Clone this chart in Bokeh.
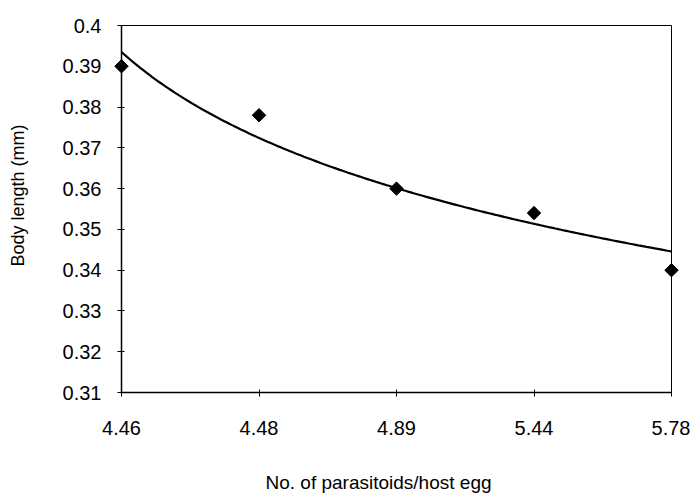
import numpy as np
from bokeh.plotting import figure
from bokeh.models import FixedTicker, CustomJSTickFormatter, Range1d, LinearAxis, Label
from bokeh.embed import file_html
from bokeh.resources import INLINE

# Data
x_labels = ["4.46", "4.48", "4.89", "5.44", "5.78"]
body_length = [0.390, 0.378, 0.360, 0.354, 0.340]
y_ticks = [0.31, 0.32, 0.33, 0.34, 0.35, 0.36, 0.37, 0.38, 0.39, 0.40]

pos = list(range(len(x_labels)))

# Logarithmic trendline fitted to the data (as in the original chart)
a, b = np.polyfit(np.log(np.array(pos) + 1.0), np.array(body_length), 1)
xs = np.linspace(0, len(pos) - 1, 200)
ys = a * np.log(xs + 1.0) + b

FONT = "Liberation Sans"

# Layout (pixels): the frame covers the whole canvas, axes are drawn at the data edges
W, H = 690, 495
PX_LEFT, PX_RIGHT, PX_TOP, PX_BOTTOM = 121, 671, 25, 392
X0, X1, Y0, Y1 = 0, 4, 0.31, 0.40
kx = (PX_RIGHT - PX_LEFT) / (X1 - X0)
ky = (PX_BOTTOM - PX_TOP) / (Y1 - Y0)
x_range = Range1d(X0 - PX_LEFT / kx, X1 + (W - PX_RIGHT) / kx)
y_range = Range1d(Y0 - (H - PX_BOTTOM) / ky, Y1 + PX_TOP / ky)


def dx(px):
    return X0 + (px - PX_LEFT) / kx


def dy(py):
    return Y0 + (PX_BOTTOM - py) / ky


p = figure(width=W, height=H, output_backend="svg", toolbar_location=None,
           x_range=x_range, y_range=y_range, x_axis_type=None, y_axis_type=None,
           min_border=0)
p.xgrid.visible = False
p.ygrid.visible = False
p.outline_line_color = None

p.line(xs, ys, line_color="black", line_width=2.2)
p.scatter(pos, body_length, marker="square", angle=np.pi / 4, size=9.5,
          fill_color="black", line_color="black")


def style(ax, width):
    ax.axis_line_color = "black"
    ax.axis_line_width = width
    ax.major_tick_line_color = "black"
    ax.major_tick_in = 3
    ax.major_tick_out = 4
    ax.minor_tick_line_color = None
    ax.major_label_text_font = FONT
    ax.major_label_text_font_size = "20px"
    ax.major_label_text_color = "black"


yaxis = LinearAxis(fixed_location=X0, bounds=(Y0, Y1), ticker=FixedTicker(ticks=y_ticks),
                   formatter=CustomJSTickFormatter(code="return String(Math.round(tick*100)/100);"))
style(yaxis, 1.5)
yaxis.major_label_standoff = 16
p.add_layout(yaxis, "left")

xaxis = LinearAxis(fixed_location=Y0, bounds=(X0, X1), ticker=FixedTicker(ticks=pos),
                   major_label_overrides={i: s for i, s in zip(pos, x_labels)})
style(xaxis, 1.5)
xaxis.major_label_standoff = 24
p.add_layout(xaxis, "below")

top = LinearAxis(fixed_location=Y1, bounds=(X0, X1), ticker=FixedTicker(ticks=[]))
style(top, 1)
top.major_tick_line_color = None
top.major_label_text_color = None
p.add_layout(top, "above")

right = LinearAxis(fixed_location=X1, bounds=(Y0, Y1), ticker=FixedTicker(ticks=[]))
style(right, 1)
right.major_tick_line_color = None
right.major_label_text_color = None
p.add_layout(right, "right")

ytitle = Label(x=dx(17), y=dy(195), text="Body length (mm)", angle=np.pi / 2,
               text_align="center", text_baseline="middle",
               text_font=FONT, text_font_size="18px", text_color="black")
p.add_layout(ytitle)

xtitle = Label(x=dx(378), y=dy(482), text="No. of parasitoids/host egg",
               text_align="center", text_baseline="middle",
               text_font=FONT, text_font_size="19px", text_color="black")
p.add_layout(xtitle)

open("out.html", "w").write(file_html(p, INLINE))
